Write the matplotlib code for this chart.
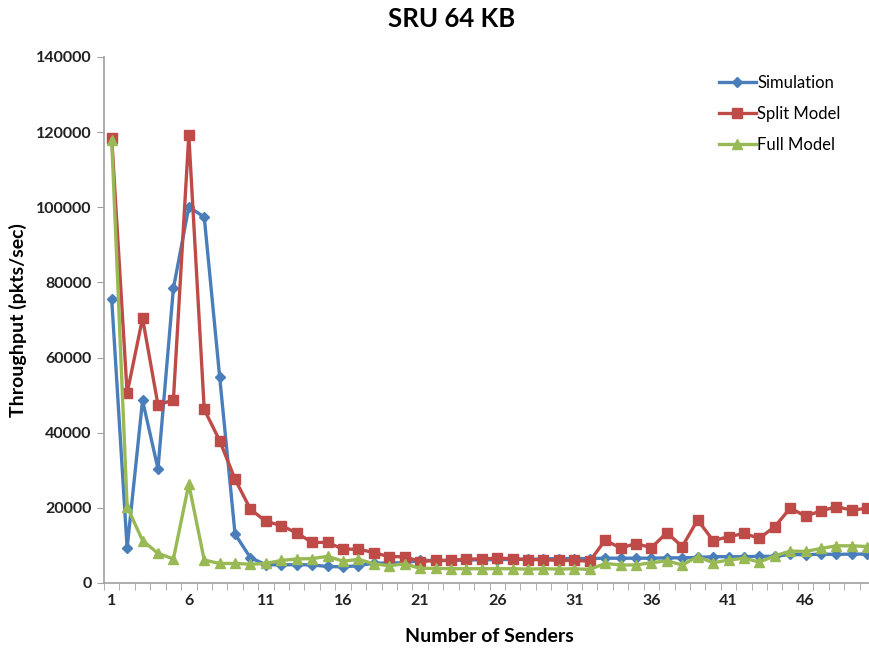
import numpy as np
import matplotlib.pyplot as plt

senders = list(range(1, 51))

simulation = [75500, 9300, 48600, 30400, 78400, 100100, 97400, 54900, 13000, 6700,
              4900, 4800, 4900, 4800, 4400, 4300, 4600, 5300, 5300, 5400,
              6000, 6000, 6000, 6100, 6200, 6200, 6300, 6300, 6400, 6500,
              6500, 6500, 6600, 6600, 6600, 6600, 6700, 6700, 6800, 7000,
              7000, 7000, 7100, 7100, 7600, 7500, 7700, 7600, 7700, 7700]
split_model = [118500, 50500, 70500, 47400, 48700, 119200, 46200, 37900, 27600, 19600,
               16400, 15300, 13300, 10800, 10800, 9000, 9000, 8100, 7000, 7000,
               5700, 6000, 6000, 6400, 6400, 6600, 6500, 6200, 6200, 6000,
               6000, 5800, 11400, 9300, 10500, 9400, 13400, 9700, 16800, 11300,
               12300, 13200, 11900, 15000, 19900, 17800, 19200, 20300, 19400, 19900]
full_model = [118000, 20300, 11300, 7900, 6400, 26300, 6100, 5200, 5200, 5000,
              5200, 6000, 6400, 6500, 7100, 5800, 6300, 5100, 4600, 5100,
              3900, 3900, 3800, 3800, 3800, 3800, 3800, 3700, 3800, 3700,
              3800, 3600, 5200, 4800, 4800, 5400, 5900, 4800, 7000, 5400,
              6100, 6600, 5600, 7200, 8500, 8400, 9200, 9900, 9900, 9700]

fig = plt.figure(figsize=(8.69, 6.52), dpi=100)
ax = fig.add_axes([104 / 869, 1 - 583 / 652, 771 / 869, 526 / 652])

font = ['Lato', 'DejaVu Sans']

ax.plot(senders, simulation, color='#4a7ebb', marker='D', markersize=5.5, linewidth=2.4, label='Simulation')
ax.plot(senders, split_model, color='#be4b48', marker='s', markersize=7, linewidth=2.4, label='Split Model')
ax.plot(senders, full_model, color='#98b954', marker='^', markersize=7.5, linewidth=2.4, label='Full Model')

ax.set_xlim(0.5, 50.5)
ax.set_ylim(0, 140000)
ax.set_yticks(np.arange(0, 140001, 20000))
ax.set_xticks(np.arange(1, 51, 5))
ax.set_xticks(np.arange(0.5, 51, 1), minor=True)
ax.tick_params(axis='x', which='major', length=0, pad=8)
ax.tick_params(axis='x', which='minor', length=5, color='#a0a0a0', direction='out')
ax.tick_params(axis='y', length=5, color='#a0a0a0', pad=4)

for lab in ax.get_xticklabels() + ax.get_yticklabels():
    lab.set_family(font)
    lab.set_fontweight('bold')
    lab.set_fontsize(11.5)
    lab.set_color('#222222')

for side in ['top', 'right']:
    ax.spines[side].set_visible(False)
for side in ['left', 'bottom']:
    ax.spines[side].set_color('#a0a0a0')
    ax.spines[side].set_linewidth(1.2)

ax.set_xlabel('Number of Senders', family=font, fontweight='bold', fontsize=14, labelpad=14)
ax.set_ylabel('Throughput (pkts/sec)', family=font, fontweight='bold', fontsize=14)
ax.yaxis.set_label_coords(-0.10, 0.5)
fig.suptitle('SRU 64 KB', family=font, fontweight='bold', fontsize=18.5, x=0.52, y=0.99)

leg = ax.legend(loc='upper right', bbox_to_anchor=(0.975, 0.995), frameon=False,
                prop={'family': font, 'size': 12}, handlelength=2.2, handletextpad=0.1,
                labelspacing=0.9)

fig.savefig('out.png', dpi=100)
